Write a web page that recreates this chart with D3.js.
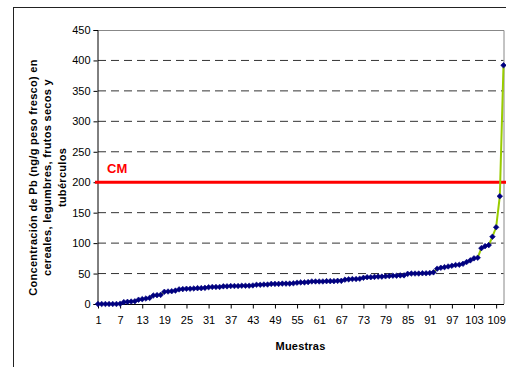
<!DOCTYPE html>
<html><head><meta charset="utf-8">
<script src="https://cdn.jsdelivr.net/npm/d3@7"></script>
<style>
body{margin:0;background:#fff;}
svg{display:block;font-family:Arial,"Liberation Sans",sans-serif;}
</style></head>
<body><svg id="c" width="506" height="367"></svg>
<script>
// ---- data ----
const values = [
 0,0,0,0,0,0,0.5,
 3,3.5,4,4.5,
 7,8,9,10,
 14,14.5,15,
 20,20.5,21,22,
 24,24.5,25,25,25.5,26,26,26.5,
 27.5,28,28,28,
 29,29,29.5,29.5,29.5,30,30,30,30.5,
 31.5,31.5,32,32,
 33,33,33,33.5,33.5,33.5,34,
 35,35.5,35.5,36,
 37,37,37,37,37.5,37.5,37.5,38,38,
 40,40.5,41,41,41.5,
 43,44,44,44.5,45,45,45.5,46,
 46.5,46.5,47,47,
 49.5,50,50,50,50.5,50.5,51,52,
 58,59.5,60.5,61.7,62.8,64,64.5,66,69,71.7,75,76,91.7,95,96.7,110.5,126,177,392
];
const samples = values.map((v,i)=>i+1);
const xTickLabels = d3.range(1,110,6);
const yTicks = [0,50,100,150,200,250,300,350,400,450];
const cmValue = 200;
const cmLabel = "CM";
const xTitle = "Muestras";
const yTitleLines = ["Concentración de Pb (ng/g peso fresco) en","cereales, legumbres, frutos secos y","tubérculos"];

// ---- layout ----
const L=98, R=503.5, T=30, B=304;
const svg = d3.select("#c");
const x = d3.scalePoint().domain(samples).range([L,R]);
const y = d3.scaleLinear().domain([0,450]).range([B,T]);

// outer chart border
svg.append("rect").attr("x",13.5).attr("y",7.5).attr("width",600).attr("height",400)
  .attr("fill","none").attr("stroke","#222").attr("stroke-width",1);

// plot area border (top/right)
svg.append("path").attr("d",`M${L},${T+0.5}H${R+0.5}V${B}`).attr("fill","none").attr("stroke","#888");

// gridlines
svg.append("g").selectAll("line").data(yTicks.filter(d=>d>0 && d<450 && d!==cmValue)).join("line")
  .attr("x1",L).attr("x2",R).attr("y1",d=>y(d)).attr("y2",d=>y(d))
  .attr("stroke","#333").attr("stroke-width",1).attr("stroke-dasharray","8,5");

// y axis
const ya = svg.append("g").attr("transform",`translate(${L-0.5},0)`)
  .call(d3.axisLeft(y).tickValues(yTicks).tickSize(4).tickPadding(3).tickFormat(d3.format("d")));
ya.select(".domain").attr("stroke","#000");
ya.selectAll(".tick line").attr("stroke","#000");
ya.selectAll("text").attr("font-size","11px").attr("fill","#000").attr("font-family","Arial, 'Liberation Sans', sans-serif");

// x axis
const xa = svg.append("g").attr("transform",`translate(0,${B+0.5})`)
  .call(d3.axisBottom(x).tickValues(xTickLabels).tickSize(4).tickPadding(8));
xa.select(".domain").attr("stroke","#000").attr("d",`M${L-1},0H${R+0.5}`);
xa.selectAll(".tick line").attr("stroke","#000");
xa.selectAll("text").attr("font-size","11px").attr("fill","#000").attr("font-family","Arial, 'Liberation Sans', sans-serif");

// CM line
svg.append("line").attr("x1",95).attr("x2",506).attr("y1",y(cmValue)).attr("y2",y(cmValue))
  .attr("stroke","#ff0000").attr("stroke-width",3);
svg.append("text").attr("x",107).attr("y",173).text(cmLabel)
  .attr("fill","#ff0000").attr("font-weight","bold").attr("font-size","13px");

// series line
svg.append("path").datum(values)
  .attr("d",d3.line().x((d,i)=>x(samples[i])).y(d=>y(d)))
  .attr("fill","none").attr("stroke","#99cc00").attr("stroke-width",2);

// markers
const s=2.8;
svg.append("g").selectAll("path").data(values).join("path")
  .attr("transform",(d,i)=>`translate(${x(samples[i])},${y(d)})`)
  .attr("d",`M0,${-s}L${s},0L0,${s}L${-s},0Z`).attr("fill","#000080").attr("stroke","#000080").attr("stroke-width",0.6);

// titles
svg.append("text").attr("x",300.5).attr("y",350).attr("text-anchor","middle")
  .attr("font-weight","bold").attr("font-size","11px").attr("letter-spacing","0.2px").text(xTitle);
const yt = svg.append("text").attr("transform","translate(37,177.5) rotate(-90)")
  .attr("text-anchor","middle").attr("font-weight","bold").attr("font-size","11px").attr("letter-spacing","0.3px");
yTitleLines.forEach((t,i)=>yt.append("tspan").attr("x",0).attr("dy",i===0?0:14.4).text(t));
</script></body></html>
